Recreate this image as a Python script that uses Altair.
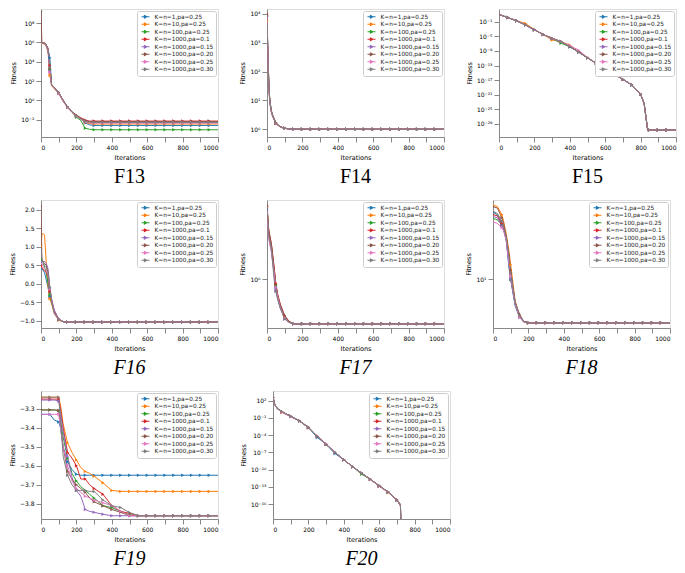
import altair as alt
import pandas as pd

SERIES = ["K=n=1,pa=0.25", "K=n=10,pa=0.25", "K=n=100,pa=0.25", "K=n=1000,pa=0.1",
          "K=n=1000,pa=0.15", "K=n=1000,pa=0.20", "K=n=1000,pa=0.25", "K=n=1000,pa=0.30"]
COLORS = ["#1f77b4", "#ff7f0e", "#2ca02c", "#d62728", "#9467bd", "#8c564b", "#e377c2", "#7f7f7f"]
X_TICKS = [0, 100, 200, 300, 400, 500, 600, 700, 800, 900, 1000]
TAIL = [350, 400, 450, 500, 550, 600, 650, 700, 750, 800, 850, 900, 950, 1000]

# ---- F13 (log10 fitness) ----
F13_IT = [0, 5, 25, 40, 50, 60, 75, 100, 125, 150, 175, 200, 225, 250, 275, 300] + TAIL
F13_LOG = [
    [6.0, 5.95, 5.85, 5.3, 4.4, 1.6, 1.3, 0.8, 0.0, -0.7, -1.2, -1.6, -1.95, -2.35, -2.55, -2.6],
    [5.9, 5.9, 5.8, 5.0, 2.6, 1.5, 1.2, 0.7, -0.1, -0.75, -1.25, -1.65, -1.95, -2.3, -2.4, -2.45],
    [6.0, 5.95, 5.85, 5.2, 3.2, 1.6, 1.25, 0.75, -0.05, -0.7, -1.2, -1.75, -2.1, -2.9, -3.0, -3.05],
    [6.0, 5.95, 5.9, 5.4, 3.6, 1.65, 1.3, 0.8, 0.0, -0.7, -1.2, -1.55, -1.8, -2.05, -2.15, -2.15],
    [6.0, 6.0, 5.9, 5.3, 3.0, 1.6, 1.3, 0.75, -0.05, -0.72, -1.22, -1.6, -1.9, -2.2, -2.28, -2.3],
    [9.2, 6.0, 5.9, 5.2, 3.3, 1.6, 1.3, 0.8, 0.0, -0.7, -1.2, -1.58, -1.85, -2.1, -2.2, -2.2],
    [5.95, 5.95, 5.85, 5.1, 2.9, 1.55, 1.25, 0.7, -0.1, -0.75, -1.25, -1.65, -1.95, -2.25, -2.33, -2.35],
    [6.0, 5.95, 5.85, 5.2, 3.4, 1.6, 1.3, 0.8, 0.0, -0.7, -1.2, -1.6, -1.9, -2.2, -2.28, -2.28],
]
F13_YDOM = [-3.8, 9.46]
F13_YTICKS = [-2, 0, 2, 4, 6, 8]

# ---- F14 (log10 fitness) ----
F14_IT = [0, 5, 10, 15, 20, 25, 30, 40, 50, 75, 100, 125, 150, 200, 250, 300] + TAIL
F14_LOG = [
    [3.95, 2.5, 1.6, 1.05, 0.8, 0.6, 0.5, 0.35, 0.2, 0.08, 0.03, 0.01, 0.0, -0.001],
    [3.75, 2.3, 1.5, 1.0, 0.75, 0.58, 0.48, 0.33, 0.2, 0.07, 0.03, 0.01, 0.0, -0.001],
    [3.9, 2.6, 1.7, 1.1, 0.85, 0.65, 0.52, 0.36, 0.22, 0.08, 0.03, 0.01, 0.0, -0.001],
    [4.0, 2.7, 1.7, 1.1, 0.8, 0.62, 0.5, 0.35, 0.2, 0.08, 0.03, 0.01, 0.0, -0.001],
    [3.9, 2.5, 1.6, 1.0, 0.78, 0.6, 0.48, 0.34, 0.21, 0.07, 0.03, 0.01, 0.0, -0.001],
    [3.95, 2.6, 1.65, 1.05, 0.8, 0.63, 0.52, 0.38, 0.23, 0.09, 0.04, 0.01, 0.0, -0.001],
    [3.9, 2.45, 1.55, 1.0, 0.75, 0.58, 0.47, 0.33, 0.2, 0.07, 0.03, 0.01, 0.0, -0.001],
    [3.92, 2.55, 1.62, 1.05, 0.8, 0.6, 0.5, 0.34, 0.21, 0.08, 0.03, 0.01, 0.0, -0.001],
]
F14_YDOM = [-0.27, 4.17]
F14_YTICKS = [0, 1, 2, 3, 4]

# ---- F15 (log10 fitness) ----
F15_IT = [0, 50, 100, 150, 200, 250, 300, 350, 400, 450, 500, 550, 600, 650, 700, 750, 800,
          820, 840, 850, 900, 950, 1000]
F15_LOG = [
    [1.0, 0.14, -0.74, -1.9, -3.2, -4.5, -5.6, -6.5, -7.9, -9.3, -10.9, -12.4, -13.9, -15.3, -16.8, -18.4, -20.9, -23.4, -30.7],
    [1.0, 0.14, -0.7, -1.5, -3.1, -4.5, -6.0, -6.4, -7.4, -9.2, -10.9, -12.4, -13.9, -15.3, -16.8, -18.3, -20.9, -23.4, -30.7],
    [1.0, 0.15, -0.74, -1.9, -3.2, -4.5, -5.6, -6.9, -7.8, -9.3, -10.9, -12.4, -13.9, -15.3, -16.8, -18.3, -20.9, -23.4, -30.7],
    [1.0, 0.14, -0.75, -1.85, -3.2, -4.5, -5.5, -6.4, -7.8, -9.3, -10.9, -12.4, -13.9, -15.3, -16.8, -18.3, -20.8, -23.4, -30.7],
    [1.0, 0.13, -0.74, -1.9, -3.25, -4.5, -5.6, -6.4, -7.8, -9.3, -10.9, -12.4, -13.9, -15.3, -16.8, -18.3, -20.9, -23.4, -30.7],
    [1.0, 0.14, -0.74, -1.9, -3.2, -4.5, -5.6, -6.4, -7.8, -9.3, -10.9, -12.4, -13.9, -15.3, -16.8, -18.3, -20.9, -23.4, -30.7],
    [1.0, 0.14, -0.72, -1.9, -3.2, -4.5, -5.6, -6.5, -7.5, -8.8, -10.8, -12.4, -13.9, -15.3, -16.8, -18.3, -20.9, -23.4, -30.7],
    [1.0, 0.14, -0.74, -1.9, -3.2, -4.5, -5.6, -6.4, -7.8, -9.3, -10.9, -12.4, -13.9, -15.3, -16.8, -18.3, -20.9, -23.4, -30.7],
]
F15_YDOM = [-32.6, 2.5]
F15_YTICKS = [-29, -25, -21, -17, -13, -9, -5, -1]

# ---- F16 (linear fitness) ----
F16_IT = [0, 5, 10, 20, 30, 40, 50, 60, 75, 100, 125, 150, 200, 250, 300] + TAIL
F16_VAL = [
    [0.4, 0.4, 0.38, 0.3, 0.1, -0.1, -0.35, -0.5, -0.75, -0.97, -1.02, -1.0316],
    [1.0, 1.35, 1.35, 1.32, 0.55, -0.1, -0.4, -0.55, -0.8, -0.98, -1.02, -1.0316],
    [0.65, 0.65, 0.6, 0.45, 0.3, 0.0, -0.3, -0.5, -0.75, -0.95, -1.02, -1.0316],
    [0.5, 0.45, 0.4, 0.35, 0.3, 0.2, -0.2, -0.45, -0.75, -0.95, -1.02, -1.0316],
    [0.6, 0.6, 0.6, 0.6, 0.55, 0.4, -0.1, -0.4, -0.7, -0.95, -1.02, -1.0316],
    [2.1, 0.65, 0.6, 0.55, 0.5, 0.3, -0.15, -0.45, -0.75, -0.96, -1.02, -1.0316],
    [0.55, 0.55, 0.5, 0.4, 0.35, 0.25, -0.15, -0.45, -0.78, -0.96, -1.02, -1.0316],
    [0.95, 0.7, 0.6, 0.5, 0.45, 0.3, -0.1, -0.45, -0.8, -0.97, -1.02, -1.0316],
]
F16_YDOM = [-1.19, 2.26]
F16_YTICKS = [-1.0, -0.5, 0.0, 0.5, 1.0, 1.5, 2.0]

# ---- F17 (fitness, log axis) ----
F17_IT = [0, 10, 25, 40, 50, 60, 75, 100, 125, 150, 200, 250, 300] + TAIL
F17_VAL = [
    [4.3, 2.5, 1.9, 1.2, 0.85, 0.7, 0.57, 0.45, 0.41, 0.398],
    [4.5, 2.7, 2.0, 1.25, 0.9, 0.72, 0.58, 0.46, 0.415, 0.398],
    [4.6, 2.6, 1.95, 1.2, 0.88, 0.71, 0.57, 0.46, 0.41, 0.398],
    [4.6, 2.8, 2.1, 1.3, 0.92, 0.74, 0.6, 0.47, 0.42, 0.398],
    [4.2, 2.4, 1.8, 1.1, 0.8, 0.68, 0.55, 0.44, 0.41, 0.398],
    [4.6, 2.7, 2.05, 1.28, 0.9, 0.73, 0.59, 0.47, 0.415, 0.398],
    [4.0, 2.3, 1.75, 1.15, 0.85, 0.7, 0.56, 0.45, 0.41, 0.398],
    [4.4, 2.5, 1.9, 1.0, 0.78, 0.66, 0.55, 0.44, 0.41, 0.398],
]
F17_YDOM = [0.365, 5.2]
F17_YTICKS = [1]

# ---- F18 (fitness, log axis) ----
F18_IT = [0, 25, 50, 60, 75, 90, 100, 110, 125, 150, 175, 200, 250, 300] + TAIL
F18_VAL = [
    [64, 60, 45, 40, 30, 14, 10, 7.5, 4.8, 3.5, 3.05, 3.0],
    [78, 75, 60, 50, 35, 22, 15, 10, 5.5, 3.6, 3.1, 3.0],
    [54, 52, 45, 40, 30, 16, 10, 7.8, 5.0, 3.5, 3.05, 3.0],
    [60, 58, 47, 42, 32, 18, 12, 8.5, 5.2, 3.6, 3.1, 3.0],
    [57, 55, 44, 40, 29, 15, 10, 7.5, 5.0, 3.5, 3.05, 3.0],
    [75, 72, 55, 47, 33, 20, 13, 9.0, 5.4, 3.8, 3.1, 3.0],
    [49, 47, 42, 38, 30, 16, 11, 8.0, 5.0, 3.5, 3.05, 3.0],
    [66, 62, 50, 43, 32, 19, 12, 8.5, 5.2, 3.7, 3.1, 3.0],
]
F18_YDOM = [2.6, 90]
F18_YTICKS = [10]

# ---- F19 (linear fitness) ----
F19_IT = [0, 50, 75, 100, 110, 125, 150, 175, 200, 225, 250, 275, 300, 350, 400, 450, 500, 550,
          600, 650, 700, 750, 800, 850, 900, 950, 1000]
F19_VAL = [
    [-3.33, -3.33, -3.36, -3.37, -3.40, -3.50, -3.58, -3.62, -3.645, -3.65],
    [-3.24, -3.24, -3.24, -3.24, -3.28, -3.38, -3.48, -3.53, -3.57, -3.61, -3.63, -3.64, -3.655, -3.69, -3.73, -3.735],
    [-3.307, -3.307, -3.307, -3.31, -3.36, -3.45, -3.56, -3.64, -3.68, -3.71, -3.73, -3.75, -3.77, -3.81, -3.82, -3.84, -3.858, -3.8628],
    [-3.25, -3.25, -3.25, -3.25, -3.30, -3.40, -3.53, -3.56, -3.60, -3.67, -3.67, -3.70, -3.72, -3.75, -3.81, -3.84, -3.85, -3.8628],
    [-3.255, -3.255, -3.255, -3.26, -3.32, -3.42, -3.55, -3.66, -3.73, -3.76, -3.83, -3.84, -3.845, -3.855, -3.8628],
    [-3.307, -3.307, -3.307, -3.31, -3.38, -3.50, -3.63, -3.67, -3.70, -3.72, -3.74, -3.77, -3.79, -3.81, -3.83, -3.845, -3.8628],
    [-3.33, -3.33, -3.33, -3.33, -3.40, -3.50, -3.60, -3.68, -3.72, -3.74, -3.76, -3.77, -3.78, -3.795, -3.81, -3.84, -3.8628],
    [-3.24, -3.24, -3.24, -3.24, -3.35, -3.55, -3.65, -3.70, -3.73, -3.73, -3.73, -3.735, -3.735, -3.78, -3.81, -3.82, -3.846, -3.8628],
]
F19_YDOM = [-3.88, -3.2075]
F19_YTICKS = [-3.8, -3.7, -3.6, -3.5, -3.4, -3.3]

# ---- F20 (log10 fitness) ----
F20_IT = [0, 10, 25, 50, 100, 150, 200, 250, 300, 350, 400, 450, 500, 550, 600, 650, 700, 720, 730]
F20_LOG = [
    [2.6, 1.3, 0.6, 0.05, -0.72, -1.55, -2.67, -4.4, -5.6, -7.2, -8.3, -9.5, -10.6, -11.7, -12.8, -13.9, -15.3, -16.0, -30],
    [2.6, 1.35, 0.6, -0.05, -0.72, -1.55, -2.67, -4.2, -5.6, -7.0, -8.3, -9.5, -10.6, -11.7, -12.8, -14.0, -15.2, -16.2, -30],
    [2.6, 1.3, 0.65, 0.1, -0.7, -1.5, -2.6, -4.2, -5.6, -7.0, -8.3, -9.5, -10.8, -11.7, -12.8, -13.9, -15.3, -16.2, -30],
    [2.6, 1.33, 0.6, 0.06, -0.72, -1.55, -2.7, -4.2, -5.6, -7.0, -8.3, -9.5, -10.6, -11.7, -12.9, -13.9, -15.3, -16.3, -30],
    [2.6, 1.33, 0.62, 0.06, -0.72, -1.55, -2.67, -4.2, -5.6, -7.0, -8.3, -9.5, -10.6, -11.7, -12.8, -13.9, -15.3, -16.2, -30],
    [2.6, 1.33, 0.6, 0.06, -0.72, -1.55, -2.67, -4.2, -5.6, -7.0, -8.3, -9.5, -10.6, -11.7, -12.8, -13.9, -15.3, -16.2, -30],
    [2.7, 1.3, 0.6, 0.0, -0.8, -1.55, -2.6, -4.2, -5.5, -7.0, -8.3, -9.5, -10.6, -11.7, -12.8, -13.9, -15.3, -16.1, -30],
    [2.6, 1.33, 0.6, 0.06, -0.72, -1.55, -2.67, -4.2, -5.6, -7.0, -8.3, -9.5, -10.6, -11.7, -12.8, -13.9, -15.3, -16.2, -30],
]
F20_YDOM = [-18.6, 3.68]
F20_YTICKS = [-16, -13, -10, -7, -4, -1, 2]

W, H = 177, 128
LEGEND_SYMBOL = "M-2,0H2M-0.55,-0.6L0.65,0L-0.55,0.6Z"

sup = "toString(round(log(datum.value)/LN10))"
for k, v in [("-", "\u207b"), ("0", "\u2070"), ("1", "\u00b9"), ("2", "\u00b2"), ("3", "\u00b3"),
             ("4", "\u2074"), ("5", "\u2075"), ("6", "\u2076"), ("7", "\u2077"), ("8", "\u2078"), ("9", "\u2079")]:
    sup = f"replace({sup}, regexp('{k}', 'g'), '{v}')"
LOG_LABEL = "'10' + " + sup


def panel(name, iters, vals, kind, ydom, yticks, italic):
    rows = []
    for s, v in zip(SERIES, vals):
        full = v + [v[-1]] * (len(iters) - len(v))
        for it, val in zip(iters, full):
            y = 10 ** val if kind == "logexp" else val
            rows.append({"it": it, "s": s, "y": y})
    df = pd.DataFrame(rows)
    is_log = kind in ("logexp", "log")
    if kind == "logexp":
        dom = [10 ** ydom[0], 10 ** ydom[1]]
        tv = [10 ** t for t in yticks]
    else:
        dom = ydom
        tv = yticks
    common = dict(grid=False, titleFontWeight="normal", titleFontSize=6.5, labelFontSize=6,
                  titleFont="DejaVu Sans", labelFont="DejaVu Sans")
    if is_log:
        yaxis = alt.Axis(values=tv, labelExpr=LOG_LABEL, title="Fitness", **common)
        yscale = alt.Scale(type="log", domain=dom, nice=False)
    else:
        yaxis = alt.Axis(values=tv, format=".1f", title="Fitness", **common)
        yscale = alt.Scale(domain=dom, nice=False, zero=False)
    x = alt.X("it:Q", scale=alt.Scale(domain=[0, 1000], nice=False),
              axis=alt.Axis(values=X_TICKS, title="Iterations", format="d", **common))
    y = alt.Y("y:Q", scale=yscale, axis=yaxis)
    color = alt.Color("s:N", scale=alt.Scale(domain=SERIES, range=COLORS), sort=SERIES,
                      legend=alt.Legend(orient="top-right", title=None, labelFontSize=5.8,
                                        labelFont="DejaVu Sans", symbolType=LEGEND_SYMBOL,
                                        symbolSize=16, symbolStrokeWidth=1.1, symbolOffset=3,
                                        labelOffset=6, strokeColor="#cccccc", fillColor="white",
                                        padding=2.5, offset=2, rowPadding=0.5, clipHeight=6.6,
                                        cornerRadius=2, labelColor="#222222"))
    base = alt.Chart(df)
    lines = base.mark_line(strokeWidth=1, clip=True).encode(x=x, y=y, color=color)
    pts = base.transform_filter("datum.it % 50 == 0 && datum.it < 1000").mark_point(
        shape="triangle-right", filled=True, size=12, opacity=1, clip=True).encode(x=x, y=y, color=color)
    return alt.layer(lines, pts).properties(
        width=W, height=H,
        title=alt.TitleParams(name, orient="bottom", font="Liberation Serif", fontSize=20,
                              fontWeight="normal", fontStyle="italic" if italic else "normal",
                              offset=6, color="black"))


row1 = alt.hconcat(
    panel("F13", F13_IT, F13_LOG, "logexp", F13_YDOM, F13_YTICKS, False),
    panel("F14", F14_IT, F14_LOG, "logexp", F14_YDOM, F14_YTICKS, False),
    panel("F15", F15_IT, F15_LOG, "logexp", F15_YDOM, F15_YTICKS, False),
    spacing=20).resolve_scale(color="independent")
row2 = alt.hconcat(
    panel("F16", F16_IT, F16_VAL, "lin", F16_YDOM, F16_YTICKS, True),
    panel("F17", F17_IT, F17_VAL, "log", F17_YDOM, F17_YTICKS, True),
    panel("F18", F18_IT, F18_VAL, "log", F18_YDOM, F18_YTICKS, True),
    spacing=20).resolve_scale(color="independent")
row3 = alt.hconcat(
    panel("F19", F19_IT, F19_VAL, "lin", F19_YDOM, F19_YTICKS, True),
    panel("F20", F20_IT, F20_LOG, "logexp", F20_YDOM, F20_YTICKS, True),
    spacing=20).resolve_scale(color="independent")

chart = alt.vconcat(row1, row2, row3, spacing=12).resolve_scale(color="independent").configure_view(
    stroke="black", strokeWidth=0.8
).configure_axis(
    labelColor="#222222", titleColor="#222222", tickSize=2.5,
    tickColor="black", domainColor="black", labelPadding=1, titlePadding=2, domainWidth=0.8
).configure(background="white", padding=0)

chart.save("out.html", embed_options={"renderer": "svg", "actions": False})
